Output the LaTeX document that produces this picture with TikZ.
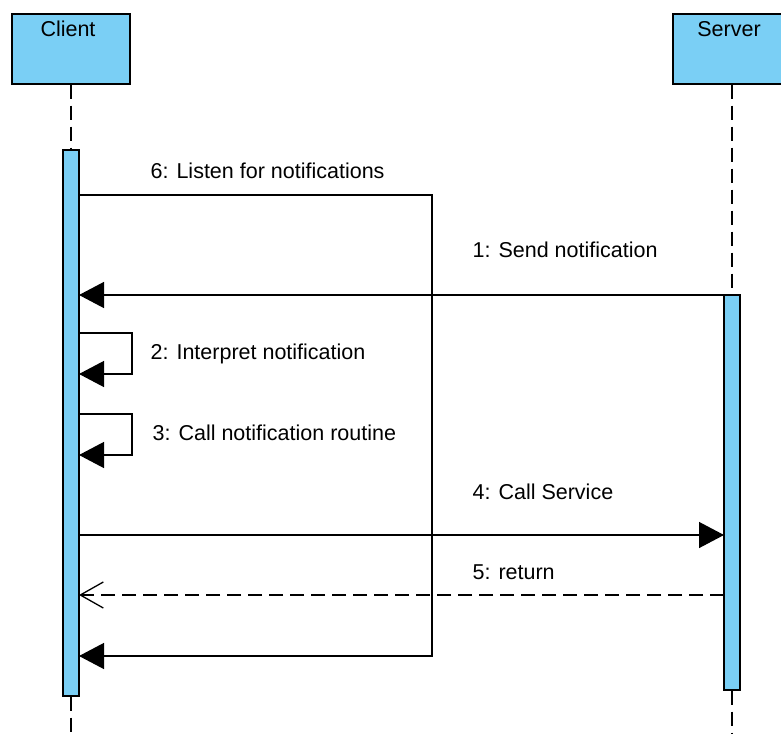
\documentclass[tikz,border=0pt]{standalone}
\usepackage{fontspec}
\setmainfont{Liberation Sans}
\usetikzlibrary{arrows.meta}
\definecolor{lifeblue}{RGB}{122,207,245}

\begin{document}
\begin{tikzpicture}[x=1pt, y=-1pt, line width=1.3pt,
	every node/.style={font=\fontsize{21.5}{24}\selectfont, inner sep=0pt},
	head/.style={draw, fill=lifeblue, minimum width=118pt, minimum height=70pt},
	bar/.style={draw, fill=lifeblue, minimum width=16pt},
	life/.style={dash pattern=on 14pt off 7pt},
	msg/.style={-{Triangle[length=25pt,width=26pt]}},
	reply/.style={dash pattern=on 14pt off 7pt, -{Straight Barb[length=23pt,width=26pt]}},
	txt/.style={anchor=base west}]
	\clip (0,0) rectangle (781,733);
	\node[head] (client) at (71,49)  {};
	\node[head] (server) at (732,49) {};
	\node[anchor=base] (clientname) at (68,37)  {Client};
	\node[anchor=base] (servername) at (729,37) {Server};
	\node[bar, minimum height=546pt] (cbar) at (71,423)   {};
	\node[bar, minimum height=395pt] (sbar) at (732,492.5) {};
	\coordinate (cend) at (71,740);
	\coordinate (send) at (732,740);
	\draw[life] (client) -- (cbar);
	\draw[life] (cbar) -- (cend);
	\draw[life] (server) -- (sbar);
	\draw[life] (sbar) -- (send);
	\coordinate (c6a) at (79,195);
	\coordinate (c6b) at (79,656);
	\coordinate (c1) at (79,295);
	\coordinate (s1) at (724,295);
	\coordinate (c2a) at (79,333);
	\coordinate (c2b) at (79,374);
	\coordinate (c3a) at (79,414);
	\coordinate (c3b) at (79,455);
	\coordinate (c4) at (79,535);
	\coordinate (s4) at (724,535);
	\coordinate (c5) at (79,595);
	\coordinate (s5) at (724,595);
	\draw[msg] (c6a) -- ++(353,0) |- (c6b);
	\draw[msg] (s1) -- (c1);
	\draw[msg] (c2a) -- ++(53,0) |- (c2b);
	\draw[msg] (c3a) -- ++(53,0) |- (c3b);
	\draw[msg] (c4) -- (s4);
	\draw[reply] (s5) -- (c5);
	\node[txt] (l6) at (150,178) {6: Listen for notifications};
	\node[txt] (l1) at (472,257) {1: Send notification};
	\node[txt] (l2) at (150,359) {2: Interpret notification};
	\node[txt] (l3) at (152,440) {3: Call notification routine};
	\node[txt] (l4) at (472,499) {4: Call Service};
	\node[txt] (l5) at (472,579) {5: return};
\end{tikzpicture}
\end{document}
